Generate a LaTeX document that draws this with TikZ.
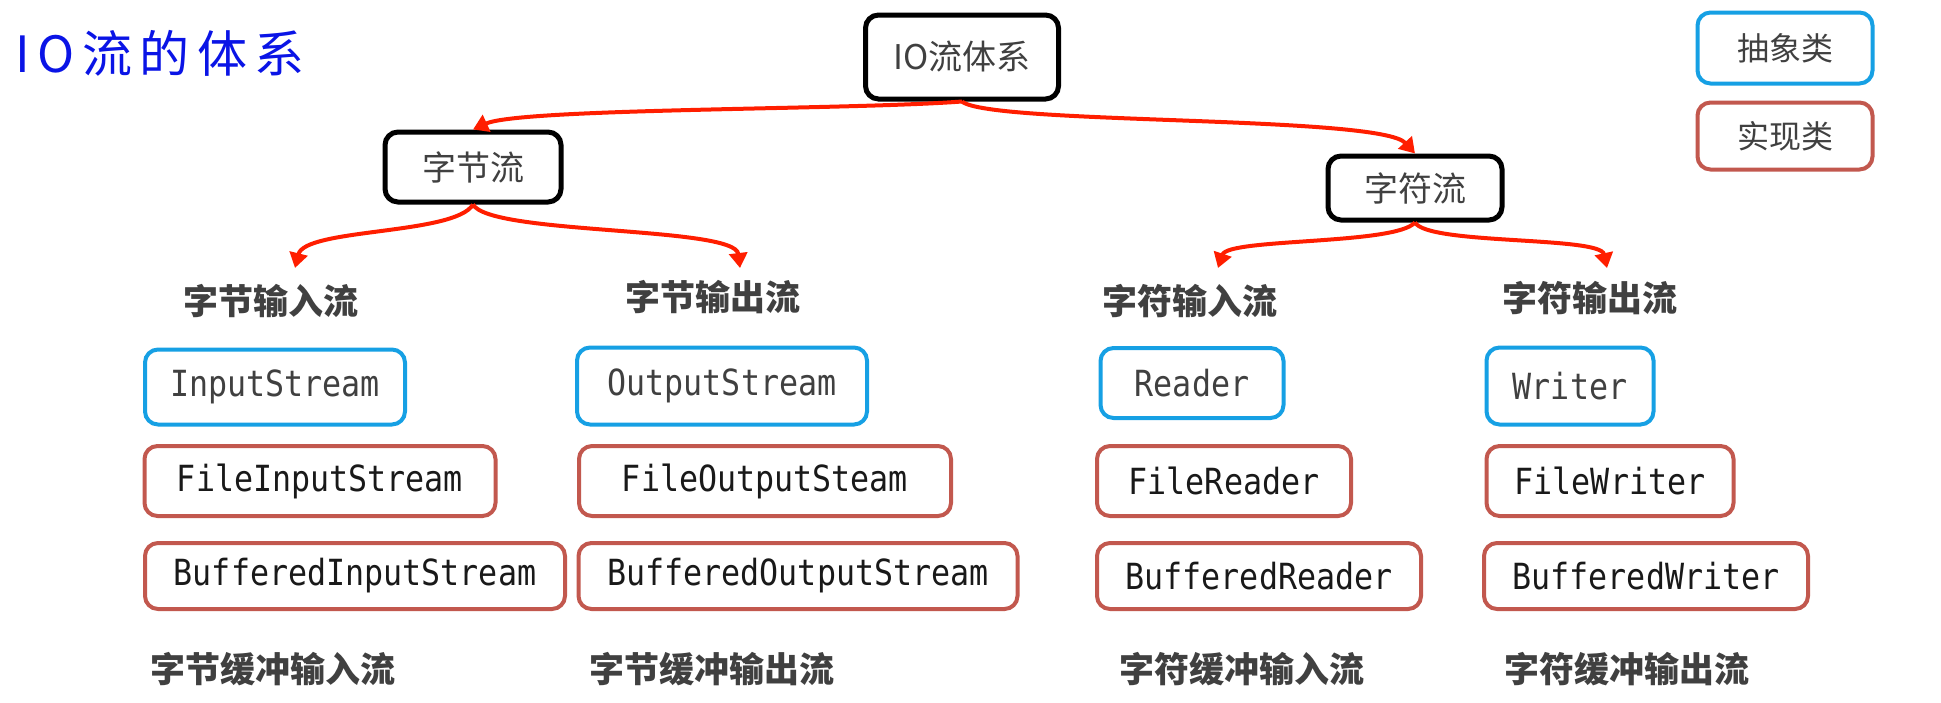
\documentclass[tikz,border=0pt]{standalone}
\usepackage{fontspec}
\setmainfont{Noto Sans CJK SC}
\newfontfamily\cjk{Noto Sans CJK SC}
\newfontfamily\cjkspaced[LetterSpace=15]{Noto Sans CJK SC}
\newfontfamily\mono[FakeStretch=0.88]{DejaVu Sans Mono}
\usetikzlibrary{arrows.meta}
\definecolor{absblue}{RGB}{22,160,228}
\definecolor{implred}{RGB}{194,88,78}
\definecolor{arrred}{RGB}{255,30,0}
\definecolor{txtgray}{RGB}{64,64,64}
\definecolor{titleblue}{RGB}{10,20,230}
\tikzset{
  basebox/.style={rounded corners=13pt, inner sep=0pt, align=center},
  rootbox/.style={basebox, draw=black, line width=5pt, text=txtgray, font=\cjk\fontsize{34pt}{40pt}\selectfont},
  absbox/.style={basebox, draw=absblue, line width=4pt, text=txtgray, font=\mono\fontsize{36pt}{42pt}\selectfont},
  implbox/.style={basebox, draw=implred, line width=4pt, text=black!90, font=\mono\fontsize{36pt}{42pt}\selectfont},
  legabs/.style={basebox, draw=absblue, line width=4pt, text=txtgray, font=\cjk\fontsize{32pt}{38pt}\selectfont},
  legimpl/.style={basebox, draw=implred, line width=4pt, text=txtgray, font=\cjk\fontsize{32pt}{38pt}\selectfont},
  grouplabel/.style={inner sep=0pt, text=txtgray, font=\cjk\bfseries\fontsize{35pt}{40pt}\selectfont},
  redarrow/.style={draw=arrred, line width=4pt, -{Triangle[length=15pt,width=18pt]}},
}
\begin{document}
\begin{tikzpicture}[x=1pt,y=-1pt]
\useasboundingbox (0,0) rectangle (1941,702);
% title
\node[inner sep=0pt, text=titleblue, font=\cjkspaced\fontsize{50pt}{56pt}\selectfont] (title) at (160,53) {IO流的体系};
% tree nodes
\node[rootbox, minimum width=193pt, minimum height=84pt] (io) at (962,57) {IO流体系};
\node[rootbox, minimum width=176pt, minimum height=70pt] (zj) at (473,167) {字节流};
\node[rootbox, minimum width=174pt, minimum height=64pt] (zf) at (1415,188) {字符流};
% legend
\node[legabs, minimum width=175pt, minimum height=71pt] (legA) at (1785,48) {抽象类};
\node[legimpl, minimum width=175pt, minimum height=67pt] (legI) at (1785,136) {实现类};
% group labels
\node[grouplabel] (l1) at (271,301) {字节输入流};
\node[grouplabel] (l2) at (713,297) {字节输出流};
\node[grouplabel] (l3) at (1190,301) {字符输入流};
\node[grouplabel] (l4) at (1590,298) {字符输出流};
% abstract classes
\node[absbox, minimum width=260pt, minimum height=75pt] (is) at (275,387) {InputStream};
\node[absbox, minimum width=290pt, minimum height=77pt] (os) at (722,386) {OutputStream};
\node[absbox, minimum width=183pt, minimum height=70pt] (rd) at (1192,383) {Reader};
\node[absbox, minimum width=167pt, minimum height=77pt] (wr) at (1570,386) {Writer};
% implementation classes
\node[implbox, minimum width=351pt, minimum height=70pt] (fis) at (320,481) {FileInputStream};
\node[implbox, minimum width=372pt, minimum height=70pt] (fos) at (765,481) {FileOutputSteam};
\node[implbox, minimum width=254pt, minimum height=70pt] (fr) at (1224,481) {FileReader};
\node[implbox, minimum width=247pt, minimum height=70pt] (fw) at (1610,481) {FileWriter};
\node[implbox, minimum width=420pt, minimum height=66pt] (bis) at (355,576) {BufferedInputStream};
\node[implbox, minimum width=439pt, minimum height=66pt] (bos) at (798,576) {BufferedOutputStream};
\node[implbox, minimum width=324pt, minimum height=66pt] (br) at (1259,576) {BufferedReader};
\node[implbox, minimum width=324pt, minimum height=66pt] (bw) at (1646,576) {BufferedWriter};
% bottom labels
\node[grouplabel] (b1) at (273,669) {字节缓冲输入流};
\node[grouplabel] (b2) at (712,669) {字节缓冲输出流};
\node[grouplabel] (b3) at (1242,669) {字符缓冲输入流};
\node[grouplabel] (b4) at (1627,669) {字符缓冲输出流};
% arrow end points
\coordinate (e1) at (295,268);
\coordinate (e2) at (740,268);
\coordinate (e3) at (1218,268);
\coordinate (e4) at (1607,268);
% connectors
\draw[redarrow] (io.south) .. controls (850,110) and (520,108) .. (zj.north);
\draw[redarrow] (io.south) .. controls (990,125) and (1380,115) .. (zf.north);
\draw[redarrow] (zj.south) .. controls (455,235) and (305,228) .. (e1);
\draw[redarrow] (zj.south) .. controls (490,235) and (735,226) .. (e2);
\draw[redarrow] (zf.south) .. controls (1395,245) and (1228,238) .. (e3);
\draw[redarrow] (zf.south) .. controls (1428,245) and (1600,236) .. (e4);
\end{tikzpicture}
\end{document}
